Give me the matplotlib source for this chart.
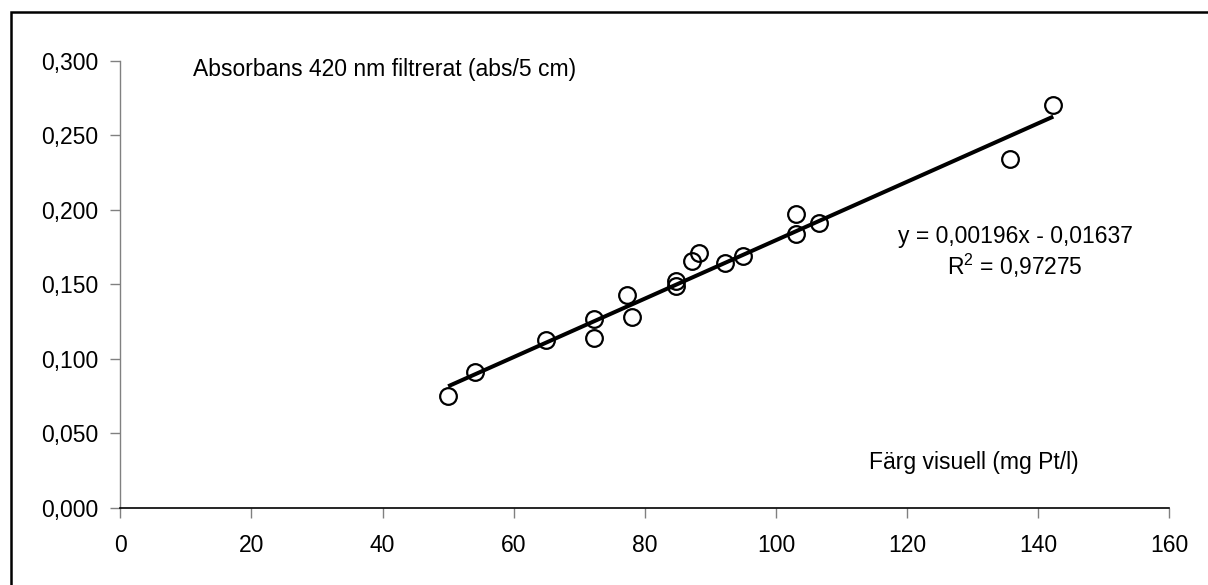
import numpy as np
import matplotlib
matplotlib.use("Agg")
import matplotlib.pyplot as plt
from matplotlib.ticker import FuncFormatter, MultipleLocator
from matplotlib.patches import Rectangle

# Färg visuell (mg Pt/l) vs absorbans 420 nm
farg = [50.0, 54.1, 64.9, 72.3, 72.3, 77.3, 78.1, 84.8, 84.8, 87.2, 88.2,
        92.3, 94.9, 103.1, 103.1, 106.5, 135.7, 142.3]
absorbans = [0.075, 0.091, 0.113, 0.127, 0.114, 0.143, 0.128, 0.152, 0.149,
             0.166, 0.171, 0.164, 0.169, 0.197, 0.184, 0.191, 0.234, 0.270]

slope = 0.00196
intercept = -0.01637
r2 = 0.97275

plt.rcParams['font.family'] = ['Liberation Sans', 'DejaVu Sans']
plt.rcParams['mathtext.fontset'] = 'custom'
plt.rcParams['mathtext.rm'] = 'Liberation Sans'
plt.rcParams['mathtext.it'] = 'Liberation Sans'

fs = 16.5
fig = plt.figure(figsize=(12.08, 5.85), dpi=100)
ax = fig.add_axes([0.0996, 0.1316, 0.8684, 0.7646])

# trendlinje
xl = np.array([min(farg), max(farg)])
ax.plot(xl, slope * xl + intercept, color='black', lw=2.9, solid_capstyle='butt', zorder=2)
ax.plot(farg, absorbans, 'o', ms=12, mfc='none', mec='black', mew=1.6, zorder=3)

ax.set_xlim(0, 160)
ax.set_ylim(0, 0.3)
ax.xaxis.set_major_locator(MultipleLocator(20))
ax.yaxis.set_major_locator(MultipleLocator(0.05))
ax.yaxis.set_major_formatter(FuncFormatter(lambda v, p: '{:.3f}'.format(v).replace('.', ',')))
ax.xaxis.set_major_formatter(FuncFormatter(lambda v, p: '{:.0f}'.format(v)))

for s in ['top', 'right']:
    ax.spines[s].set_visible(False)
ax.spines['left'].set_color('#808080')
ax.spines['left'].set_linewidth(1.0)
ax.spines['bottom'].set_color('black')
ax.spines['bottom'].set_linewidth(1.2)
ax.tick_params(axis='y', direction='out', length=7, width=1, color='#808080',
               labelsize=fs, pad=9)
ax.tick_params(axis='x', direction='out', length=7, width=1, color='#808080',
               labelsize=fs, pad=12)

ax.text(0.0693, 0.966, 'Absorbans 420 nm filtrerat (abs/5 cm)', transform=ax.transAxes,
        fontsize=fs, ha='left', va='baseline')
ax.text(0.7137, 0.0872, 'Färg visuell (mg Pt/l)', transform=ax.transAxes,
        fontsize=fs, ha='left', va='baseline')
ax.text(0.853, 0.5925, 'y = 0,00196x - 0,01637', transform=ax.transAxes,
        fontsize=fs, ha='center', va='baseline')
ax.text(0.853, 0.521, r'R$^{\mathrm{2}}$ = ' + '{:.5f}'.format(r2).replace('.', ','),
        transform=ax.transAxes, fontsize=fs, ha='center', va='baseline')

# ram runt diagrammet
fig.patches.append(Rectangle((11 / 1208, -0.1), 1.2, 1 - 12 / 585 + 0.1,
                             transform=fig.transFigure, fill=False,
                             edgecolor='black', lw=1.8))

fig.savefig('out.png', dpi=100, facecolor='white')
